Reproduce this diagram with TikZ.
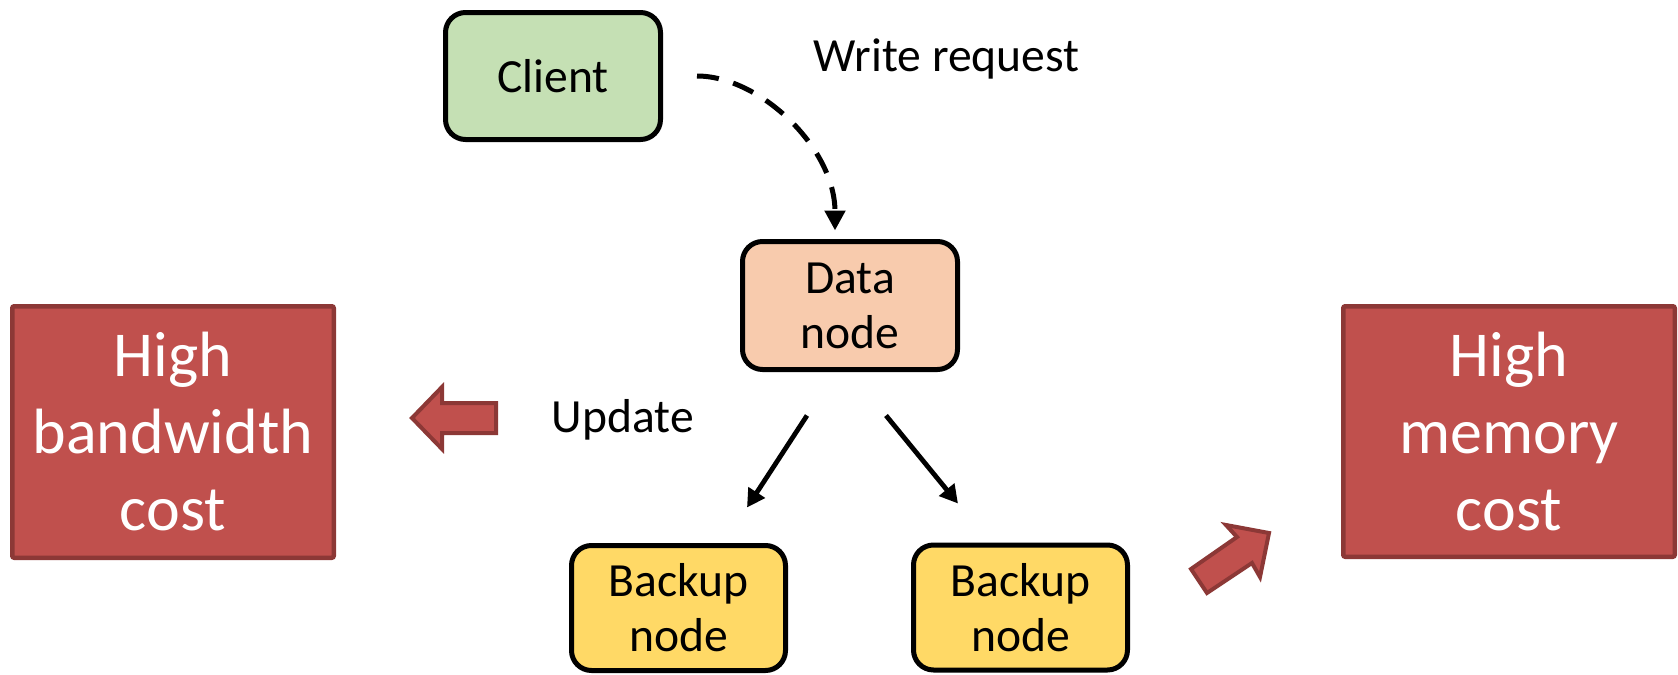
\documentclass[tikz,border=0pt]{standalone}
\usepackage{fontspec}
\setmainfont{Carlito}
\usetikzlibrary{arrows.meta,calc}
\definecolor{clientfill}{HTML}{C5E0B4}
\definecolor{datafill}{HTML}{F8CBAD}
\definecolor{backupfill}{HTML}{FFD966}
\definecolor{costfill}{HTML}{C0504D}
\definecolor{costline}{HTML}{8C3836}
\begin{document}
\begin{tikzpicture}[x=0.5pt,y=-0.5pt,
  box/.style={draw=black, line width=2.5pt, rounded corners=10pt, align=center, inner sep=0pt,
    font=\fontsize{23.8}{27.5}\selectfont},
  costbox/.style={draw=costline, fill=costfill, line width=2.25pt, rounded corners=1pt, align=center,
    inner sep=0pt, text=white, font=\fontsize{32}{38.5}\selectfont},
  lbl/.style={inner sep=0pt, font=\fontsize{23.8}{27.5}\selectfont},
  dasharrow/.style={line width=2.5pt, dash pattern=on 11pt off 7.5pt, -{Triangle[length=10pt,width=10pt]}},
  solidarrow/.style={line width=2.4pt, -{Triangle[length=9pt,width=9.5pt]}},
  blockarrow/.style={draw=costline, fill=costfill, line width=2pt, line join=miter}
]
\useasboundingbox (0,0) rectangle (1678,675);

\node[box, fill=clientfill, minimum width=107.5pt, minimum height=63.5pt] (client) at (553,76) {Client};
\node[box, fill=datafill, minimum width=107.5pt, minimum height=64pt] (data) at (850,305.5) {Data\\node};
\node[box, fill=backupfill, minimum width=107pt, minimum height=62.5pt] (bl) at (678.5,608) {Backup\\node};
\node[box, fill=backupfill, minimum width=107pt, minimum height=62.5pt] (br) at (1020.5,607.5) {Backup\\node};

\node[costbox, minimum width=160.75pt, minimum height=125.75pt] (bw) at (173,432) {High\\bandwidth\\cost};
\node[costbox, minimum width=165.75pt, minimum height=125.25pt] (mem) at (1509,431.5) {High\\memory\\cost};

\node[lbl, anchor=base] (wr) at (946.5,71) {Write request};
\node[lbl, anchor=base] (upd) at (623,432) {Update};

\draw[dasharrow, shorten <=17pt, shorten >=4.25pt]
  (client.east) .. controls +(96.5,0) and +(0,-91.5) .. ([xshift=-7.5pt]data.north);

\draw[solidarrow] ($(data.south)+(-43,43.5)$) -- ($(bl.north)+(68.5,-35.5)$);
\draw[solidarrow] ($(data.south)+(36,43.5)$) -- ($(br.north)+(-62.5,-39)$);

\draw[blockarrow] (412,418) -- (442,387) -- (442,403) -- (496,403) -- (496,433) -- (442,433) -- (442,449) -- cycle;
\draw[blockarrow] (1269,533) -- (1226,525) -- (1237,537) -- (1191,569) -- (1207,593) -- (1252,563) -- (1260,577) -- cycle;
\end{tikzpicture}
\end{document}
